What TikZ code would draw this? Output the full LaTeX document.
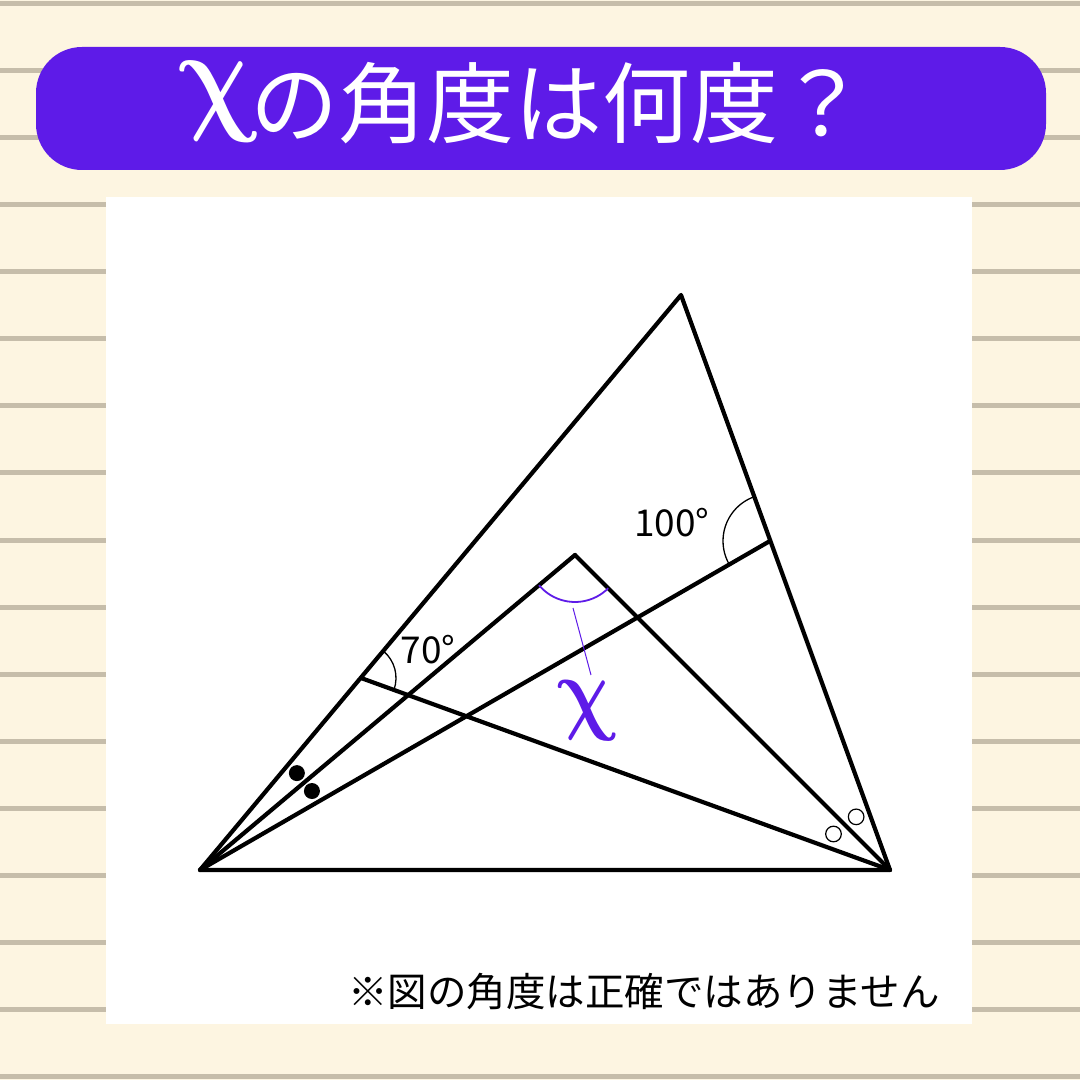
\documentclass[tikz,border=0pt]{standalone}
\usepackage{fontspec}
\usepackage{bm}
\usepackage{tikz}
\usetikzlibrary{angles,calc}
\setmainfont{Noto Sans CJK JP}
\definecolor{paper}{RGB}{253,245,225}
\definecolor{rulecol}{RGB}{198,189,170}
\definecolor{titleviolet}{RGB}{94,27,232}
\newcommand{\chiglyph}[2]{\scalebox{#1}[#2]{$\bm{\chi}$}}

\begin{document}
\begin{tikzpicture}[x=1pt,y=1pt,
		seg/.style={line width=4.2pt, line cap=round, line join=round},
		arcmark/.style={draw, line width=1.3pt},
		degree/.style={font=\fontsize{37}{40}\selectfont, inner sep=0pt},
		chilbl/.style={inner sep=0pt, xslant=-0.22}]
				\useasboundingbox (0,0) rectangle (1080,1080);
				\fill[paper] (0,0) rectangle (1080,1080);
				\foreach \i in {0,...,16}{
					\fill[rulecol] (0,{1076.7-67.1*\i-2.5}) rectangle (1080,{1076.7-67.1*\i+2.5});
				}
				\fill[white] (106,56) rectangle (972,883);
				
				% title
				\fill[titleviolet, rounded corners=46pt] (36,910) rectangle (1046,1033);
				\node[text=white, anchor=base west, inner sep=0pt, font=\fontsize{88}{90}\selectfont] (title) at (250,943)
					{の角度は何度？};
				\node[chilbl, text=white] (titlechi) at (219,978) {\chiglyph{10.2}{12.6}};
				
				\foreach \n/\x/\y in
				{A/200/210, B/890/210, C/681/785, P/361/402, Q/770/539, D/575/525}{
					\coordinate (\n) at (\x,\y);
				}
				
				\draw[seg] (A) -- (B) -- (C) -- cycle;
				\foreach \s/\t in
				{A/D, D/B, A/Q, B/P}{
					\draw[seg] (\s) -- (\t);
				}
				
				% angles
				\pic[arcmark, angle radius=35pt] {angle=B--P--C};
				\pic[arcmark, angle radius=47pt] {angle=C--Q--A};
				\pic[arcmark, draw=titleviolet, line width=1.8pt, angle radius=47pt] {angle=A--D--B};
				
				% equal angles at A and B
				\fill ($(A)+(45:137)$) circle (8pt);
				\fill ($(A)+(35.2:137)$) circle (8pt);
				\draw[line width=1.2pt] ($(B)+(122.5:63)$) circle (7.8pt);
				\draw[line width=1.2pt] ($(B)+(147.5:67)$) circle (7.8pt);
				
				\node[degree] (a70) at (428,430) {70°};
				\node[degree] (a100) at (672,557) {100°};
				
				% x label
				\node[chilbl, text=titleviolet] (xlbl) at (587,369) {\chiglyph{7.6}{9.4}};
				\coordinate (xtip) at (573,472);
				\coordinate (xend) at (591,405);
				\draw[titleviolet, line width=1pt] (xtip) -- (xend);
				
				\node[font=\fontsize{39.5}{42}\selectfont, inner sep=0pt] (note) at (644,88) {※図の角度は正確ではありません};
\end{tikzpicture}
\end{document}
